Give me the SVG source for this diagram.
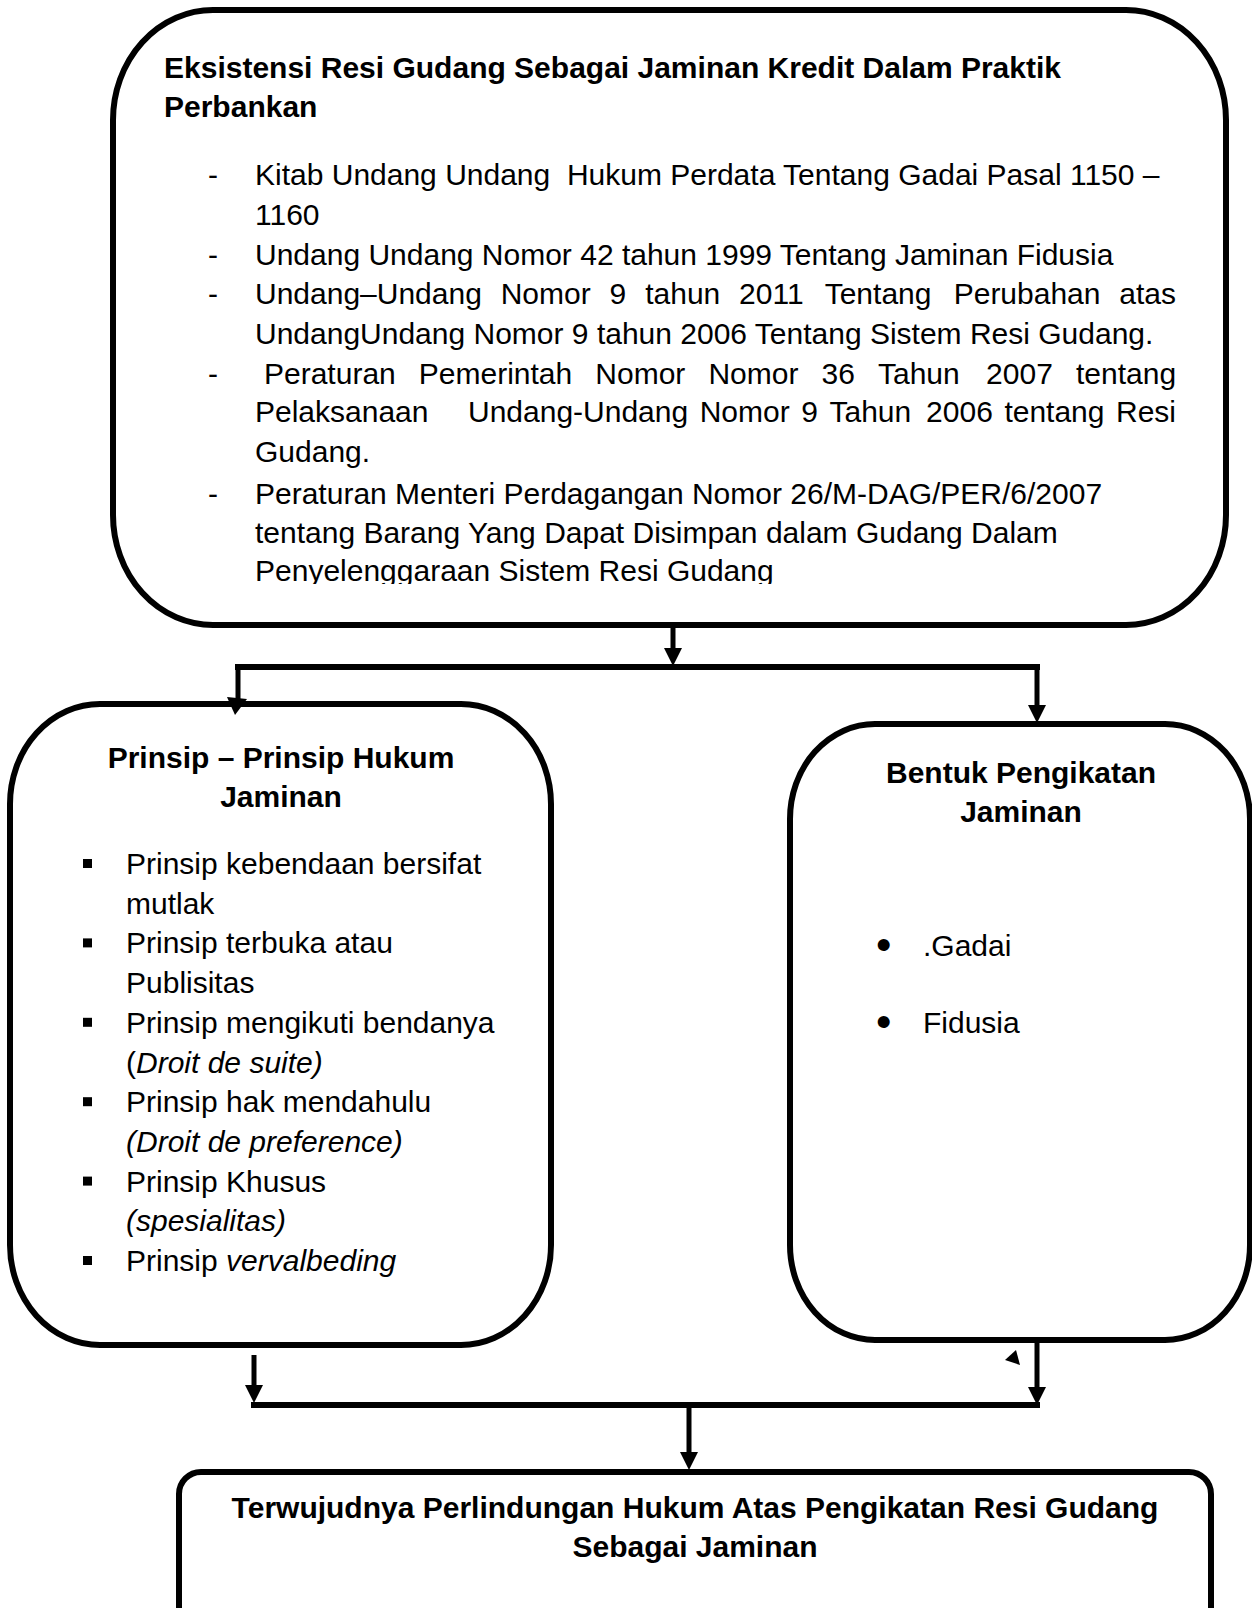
<svg xmlns="http://www.w3.org/2000/svg" width="1252" height="1608" viewBox="0 0 1252 1608">
<style>
text{font-family:"Liberation Sans",Arial,sans-serif;font-size:30px;fill:#000}
.b{font-weight:bold}
.i{font-style:italic}
.dot{font-size:44px}
.box{fill:#fff;stroke:#000;stroke-width:6}
.ln{stroke:#000;stroke-width:5;fill:none}
.hl{stroke:#000;stroke-width:6;fill:none}
.ah{fill:#000}
</style>
<defs>
<marker id="arr" viewBox="0 0 18 18" refX="8" refY="9" markerWidth="18" markerHeight="18" markerUnits="userSpaceOnUse" orient="auto">
<path d="M0,0 L18,9 L0,18 z" fill="#000"/>
</marker>
<clipPath id="clipTop"><rect x="0" y="0" width="1252" height="584"/></clipPath>
</defs>
<rect width="1252" height="1608" fill="#fff"/>

<g id="node-top">
<rect class="box" x="113" y="10" width="1113" height="615" rx="100" ry="110"/>
<text class="b" x="164" y="78">Eksistensi Resi Gudang Sebagai Jaminan Kredit Dalam Praktik</text>
<text class="b" x="164" y="117">Perbankan</text>
<g clip-path="url(#clipTop)">
<text x="208" y="185">-</text>
<text x="255" y="185" xml:space="preserve">Kitab Undang Undang  Hukum Perdata Tentang Gadai Pasal 1150 –</text>
<text x="255" y="225">1160</text>
<text x="208" y="265">-</text>
<text x="255" y="265">Undang Undang Nomor 42 tahun 1999 Tentang Jaminan Fidusia</text>
<text x="208" y="304">-</text>
<text y="304"><tspan x="255">Undang–Undang</tspan><tspan x="500.7">Nomor</tspan><tspan x="609.6">9</tspan><tspan x="645.2">tahun</tspan><tspan x="739.1">2011</tspan><tspan x="824.7">Tentang</tspan><tspan x="953.7">Perubahan</tspan><tspan x="1119.3">atas</tspan></text>
<text x="255" y="344">UndangUndang Nomor 9 tahun 2006 Tentang Sistem Resi Gudang.</text>
<text x="208" y="384">-</text>
<text y="384"><tspan x="264">Peraturan</tspan><tspan x="418.8">Pemerintah</tspan><tspan x="595.3">Nomor</tspan><tspan x="708.4">Nomor</tspan><tspan x="821.5">36</tspan><tspan x="878">Tahun</tspan><tspan x="986.1">2007</tspan><tspan x="1076">tentang</tspan></text>
<text y="422"><tspan x="255">Pelaksanaan</tspan><tspan x="468">Undang-Undang</tspan><tspan x="699.7">Nomor</tspan><tspan x="801.2">9</tspan><tspan x="829.5">Tahun</tspan><tspan x="926.1">2006</tspan><tspan x="1004.4">tentang</tspan><tspan x="1116">Resi</tspan></text>
<text x="255" y="462">Gudang.</text>
<text x="208" y="504">-</text>
<text x="255" y="504">Peraturan Menteri Perdagangan Nomor 26/M-DAG/PER/6/2007</text>
<text x="255" y="543">tentang Barang Yang Dapat Disimpan dalam Gudang Dalam</text>
<text x="255" y="581">Penyelenggaraan Sistem Resi Gudang</text>
</g>
</g>

<g id="node-left">
<rect class="box" x="10" y="704" width="541" height="641" rx="90" ry="100"/>
<text class="b" x="281" y="768" text-anchor="middle">Prinsip – Prinsip Hukum</text>
<text class="b" x="281" y="807" text-anchor="middle">Jaminan</text>
<rect x="83" y="859" width="9" height="9"/>
<text x="126" y="874">Prinsip kebendaan bersifat</text>
<text x="126" y="913.7">mutlak</text>
<rect x="83" y="938.4" width="9" height="9"/>
<text x="126" y="953.4">Prinsip terbuka atau</text>
<text x="126" y="993.1">Publisitas</text>
<rect x="83" y="1017.8" width="9" height="9"/>
<text x="126" y="1032.8">Prinsip mengikuti bendanya</text>
<text x="126" y="1072.5">(<tspan class="i">Droit de suite)</tspan></text>
<rect x="83" y="1097.2" width="9" height="9"/>
<text x="126" y="1112.2">Prinsip hak mendahulu</text>
<text class="i" x="126" y="1151.9">(Droit de preference)</text>
<rect x="83" y="1176.6" width="9" height="9"/>
<text x="126" y="1191.6">Prinsip Khusus</text>
<text class="i" x="126" y="1231.3">(spesialitas)</text>
<rect x="83" y="1256" width="9" height="9"/>
<text x="126" y="1271">Prinsip <tspan class="i">vervalbeding</tspan></text>
</g>

<g id="node-right">
<rect class="box" x="790" y="724" width="460" height="616" rx="85" ry="95"/>
<text class="b" x="1021" y="783" text-anchor="middle">Bentuk Pengikatan</text>
<text class="b" x="1021" y="822" text-anchor="middle">Jaminan</text>
<text class="dot" x="876" y="960">•</text>
<text x="923" y="956">.Gadai</text>
<text class="dot" x="876" y="1037">•</text>
<text x="923" y="1033">Fidusia</text>
</g>

<g id="node-bottom">
<rect class="box" x="179" y="1472" width="1032" height="170" rx="22" ry="22"/>
<text class="b" x="695" y="1518" text-anchor="middle">Terwujudnya Perlindungan Hukum Atas Pengikatan Resi Gudang</text>
<text class="b" x="695" y="1557" text-anchor="middle">Sebagai Jaminan</text>
</g>

<g id="connectors">
<line class="ln" x1="673" y1="628" x2="673" y2="656" marker-end="url(#arr)"/>
<line class="hl" x1="235" y1="667" x2="1040" y2="667"/>
<line class="ln" x1="238" y1="664" x2="238" y2="699"/>
<polygon class="ah" points="227,697 247,699 235,715"/>
<line class="ln" x1="1037" y1="664" x2="1037" y2="713" marker-end="url(#arr)"/>
<line class="ln" x1="254" y1="1355" x2="254" y2="1393" marker-end="url(#arr)"/>
<line class="ln" x1="1037" y1="1343" x2="1037" y2="1395" marker-end="url(#arr)"/>
<line class="hl" x1="251" y1="1405" x2="1040" y2="1405"/>
<line class="ln" x1="689" y1="1405" x2="689" y2="1460" marker-end="url(#arr)"/>
<polygon class="ah" points="1016,1350 1005,1360 1020,1365"/>
</g>
</svg>
